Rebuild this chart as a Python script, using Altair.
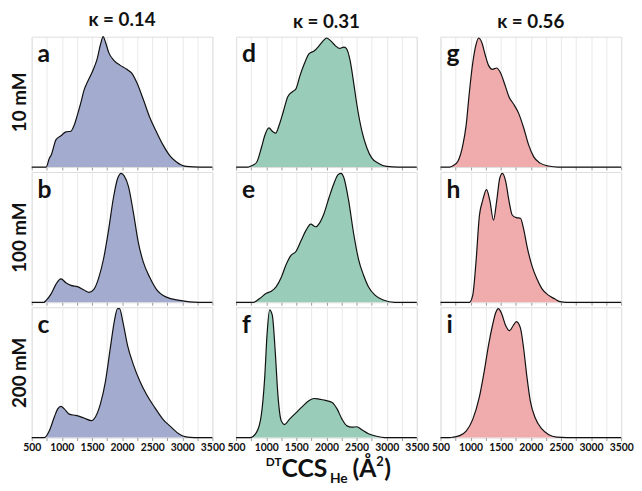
import altair as alt
import pandas as pd

# ---- data (normalised density) ----
X_A = [500, 740, 795, 822, 904, 986, 1068, 1150, 1205, 1259, 1314, 1369, 1423, 1505, 1587, 1642, 1686, 1724, 1778, 1860, 1970, 2079, 2161, 2243, 2352, 2461, 2571, 2680, 2789, 2899, 3062, 3300, 3500]
Y_A = [0, 0, 0.07, 0.09, 0.21, 0.24, 0.27, 0.275, 0.32, 0.40, 0.49, 0.59, 0.65, 0.73, 0.83, 0.94, 1.0, 0.96, 0.88, 0.82, 0.78, 0.75, 0.72, 0.65, 0.52, 0.38, 0.27, 0.17, 0.09, 0.04, 0.005, 0, 0]

X_B = [500, 700, 740, 822, 904, 986, 1068, 1150, 1259, 1369, 1451, 1532, 1614, 1696, 1778, 1860, 1926, 1986, 2035, 2106, 2188, 2270, 2352, 2461, 2571, 2735, 2953, 3281, 3500]
Y_B = [0, 0, 0.015, 0.065, 0.14, 0.18, 0.15, 0.13, 0.12, 0.095, 0.077, 0.10, 0.19, 0.34, 0.56, 0.81, 0.95, 0.99, 0.97, 0.89, 0.69, 0.46, 0.31, 0.19, 0.10, 0.04, 0.015, 0, 0]

X_C = [500, 713, 795, 877, 932, 986, 1041, 1123, 1232, 1369, 1489, 1560, 1642, 1724, 1806, 1871, 1926, 1959, 2013, 2090, 2188, 2298, 2407, 2544, 2680, 2817, 2953, 3063, 3200, 3500]
Y_C = [0, 0, 0.055, 0.16, 0.22, 0.24, 0.22, 0.18, 0.17, 0.15, 0.13, 0.16, 0.26, 0.43, 0.69, 0.89, 0.99, 0.99, 0.89, 0.71, 0.56, 0.43, 0.33, 0.23, 0.14, 0.08, 0.025, 0.005, 0, 0]

X_D = [500, 700, 757, 839, 921, 975, 1046, 1112, 1156, 1221, 1287, 1358, 1440, 1494, 1560, 1631, 1713, 1795, 1877, 1948, 2003, 2068, 2150, 2221, 2287, 2330, 2396, 2451, 2505, 2587, 2669, 2751, 2860, 2997, 3200, 3500]
Y_D = [0, 0, 0.01, 0.035, 0.15, 0.24, 0.30, 0.27, 0.26, 0.33, 0.43, 0.54, 0.58, 0.60, 0.70, 0.79, 0.87, 0.89, 0.93, 0.97, 0.99, 0.97, 0.93, 0.91, 0.92, 0.91, 0.81, 0.65, 0.48, 0.28, 0.15, 0.07, 0.03, 0.005, 0, 0]

X_E = [500, 784, 893, 1003, 1085, 1167, 1249, 1331, 1412, 1494, 1576, 1658, 1740, 1822, 1888, 1959, 2041, 2123, 2194, 2243, 2287, 2369, 2451, 2533, 2615, 2697, 2806, 2943, 3134, 3500]
Y_E = [0, 0, 0.03, 0.07, 0.085, 0.12, 0.19, 0.29, 0.36, 0.39, 0.47, 0.55, 0.60, 0.58, 0.61, 0.68, 0.80, 0.91, 0.98, 0.99, 0.96, 0.78, 0.53, 0.33, 0.21, 0.12, 0.055, 0.018, 0, 0]

X_F = [500, 730, 839, 921, 975, 1014, 1057, 1101, 1150, 1194, 1249, 1303, 1385, 1494, 1604, 1713, 1795, 1877, 1986, 2096, 2177, 2260, 2342, 2423, 2505, 2587, 2697, 2833, 2970, 3500]
Y_F = [0, 0, 0.04, 0.18, 0.46, 0.79, 0.98, 0.94, 0.66, 0.33, 0.13, 0.10, 0.14, 0.19, 0.24, 0.285, 0.30, 0.295, 0.285, 0.27, 0.22, 0.14, 0.09, 0.08, 0.083, 0.06, 0.03, 0.01, 0, 0]

X_G = [500, 650, 708, 790, 872, 926, 981, 1036, 1090, 1134, 1183, 1243, 1298, 1363, 1434, 1500, 1571, 1637, 1718, 1800, 1882, 1964, 2046, 2156, 2292, 2456, 3500]
Y_G = [0, 0, 0.01, 0.045, 0.17, 0.32, 0.58, 0.80, 0.94, 0.99, 0.96, 0.86, 0.78, 0.75, 0.76, 0.72, 0.63, 0.54, 0.48, 0.41, 0.30, 0.17, 0.08, 0.03, 0.008, 0, 0]

X_H = [500, 981, 1036, 1090, 1145, 1200, 1265, 1320, 1380, 1434, 1483, 1527, 1582, 1637, 1691, 1757, 1828, 1882, 1937, 2019, 2101, 2183, 2292, 2402, 2483, 2600, 3500]
Y_H = [0, 0, 0.055, 0.31, 0.66, 0.78, 0.865, 0.78, 0.63, 0.78, 0.95, 0.99, 0.93, 0.78, 0.67, 0.65, 0.645, 0.56, 0.43, 0.28, 0.18, 0.105, 0.055, 0.025, 0.005, 0, 0]

X_I = [500, 650, 708, 817, 926, 1036, 1145, 1227, 1298, 1363, 1418, 1462, 1516, 1582, 1647, 1708, 1762, 1828, 1882, 1937, 1992, 2074, 2183, 2292, 2429, 2600, 3500]
Y_I = [0, 0, 0.003, 0.015, 0.05, 0.14, 0.31, 0.51, 0.71, 0.86, 0.96, 0.99, 0.95, 0.86, 0.82, 0.86, 0.89, 0.84, 0.68, 0.46, 0.28, 0.15, 0.066, 0.023, 0.003, 0, 0]

COL_TITLES = ["κ = 0.14", "κ = 0.31", "κ = 0.56"]
ROW_TITLES = ["10 mM", "100 mM", "200 mM"]
LETTERS = [["a", "d", "g"], ["b", "e", "h"], ["c", "f", "i"]]
SERIES = [[(X_A, Y_A), (X_D, Y_D), (X_G, Y_G)],
          [(X_B, Y_B), (X_E, Y_E), (X_H, Y_H)],
          [(X_C, Y_C), (X_F, Y_F), (X_I, Y_I)]]
COLORS = ["#A3ACCF", "#9ACDB9", "#F0ABAD"]
TICKS = list(range(500, 3501, 250))

FONT = "Lato"
W, H = 183, 132

panels = []
for r in range(3):
    for c in range(3):
        xs, ys = SERIES[r][c]
        df = pd.DataFrame({"x": xs, "y": ys})
        bottom = (r == 2)
        xaxis = alt.Axis(
            values=TICKS, grid=True, gridColor="#e3e3e3", gridWidth=0.8,
            domain=False, ticks=True, tickSize=3, tickColor="#999",
            labels=bottom, labelFont=FONT, labelFontWeight="bold",
            labelFontSize=10.5, labelColor="#111", labelPadding=2, format="d",
            labelExpr="datum.value % 500 == 0 ? format(datum.value, 'd') : ''",
            labelOverlap=False, labelFlush=False, title=None,
        )
        if c == 0:
            yenc = alt.Y("y:Q", scale=alt.Scale(domain=[0, 1], nice=False),
                         axis=alt.Axis(title=ROW_TITLES[r], labels=False, ticks=False,
                                       domain=False, grid=False, titleFont=FONT,
                                       titleFontSize=19, titleFontWeight="bold",
                                       titleColor="#111", titlePadding=2))
        else:
            yenc = alt.Y("y:Q", scale=alt.Scale(domain=[0, 1], nice=False), axis=None)
        area = alt.Chart(df).mark_area(
            color=COLORS[c], opacity=1, interpolate="monotone",
            line={"color": "#111", "strokeWidth": 1.2},
        ).encode(
            x=alt.X("x:Q", scale=alt.Scale(domain=[500, 3500], nice=False), axis=xaxis),
            y=yenc,
        )
        letter = alt.Chart(pd.DataFrame({"t": [LETTERS[r][c]]})).mark_text(
            align="left", baseline="alphabetic", font=FONT, fontSize=25,
            fontWeight="bold", color="#111",
        ).encode(x=alt.value(6), y=alt.value(26), text="t:N")
        layers = [area, letter]
        if r == 2 and c == 1:
            yb = 172
            parts = [
                ("DT", 30, yb - 11, 12),
                ("CCS", 46, yb, 25),
                ("He", 95, yb + 6, 14),
                ("(Å", 118, yb, 25),
                ("2", 142, yb - 11, 13),
                (")", 150, yb, 25),
            ]
            for txt, px, py, fs in parts:
                layers.append(
                    alt.Chart(pd.DataFrame({"t": [txt]})).mark_text(
                        align="left", baseline="alphabetic", font=FONT,
                        fontSize=fs, fontWeight="bold", color="#111",
                    ).encode(x=alt.value(px), y=alt.value(py), text="t:N")
                )
        props = dict(width=W, height=H)
        if r == 0:
            props["title"] = alt.TitleParams(COL_TITLES[c], font=FONT, fontSize=19,
                                             fontWeight="bold", color="#111", offset=4)
        panels.append(alt.layer(*layers).properties(**props))

chart = alt.concat(
    *panels, columns=3, spacing={"row": 5, "column": 24}, bounds="flush"
).properties(
    padding={"left": 2, "top": 0, "right": 0, "bottom": 0}
).configure_view(
    stroke="#999", strokeWidth=1
).configure(background="white")

chart.save("out.html", embed_options={"renderer": "svg", "actions": False})
